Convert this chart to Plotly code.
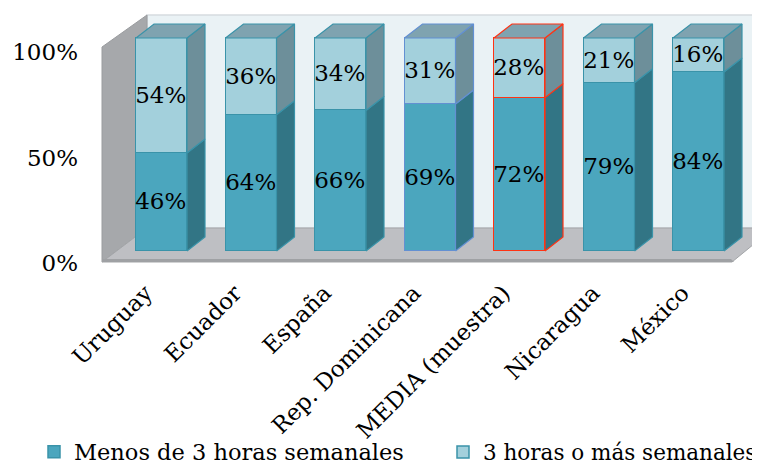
import plotly.graph_objects as go

categories = ["Uruguay", "Ecuador", "España", "Rep. Dominicana", "MEDIA (muestra)", "Nicaragua", "México"]
menos_3h = [46, 64, 66, 69, 72, 79, 84]
mas_3h = [54, 36, 34, 31, 28, 21, 16]
series_names = ["Menos de 3 horas semanales", "3 horas o más semanales"]
y_ticks = [0, 50, 100]
y_tick_labels = ["0%", "50%", "100%"]

OFF = 8  # page body margin: screen px = figure px + OFF
W, H = 760 - OFF, 466 - OFF
L, R, T, B = 95 - OFF, 0, 12 - OFF, 466 - 266
# pixel geometry of the bar plane (screen coordinates)
X0PX, XSTEP = 161.5, 89.5
Y0PX, YSCALE = 251.0, 2.13

def dx(px):  # screen px -> data x
    return (px - X0PX) / XSTEP

def dy(py):  # screen px -> data y
    return (Y0PX - py) / YSCALE

xr = [dx(L + OFF), dx(W - R + OFF)]
yr = [dy(H - B + OFF), dy(T + OFF)]

BW = 51 / XSTEP
DX = 18 / XSTEP
DY = 14 / YSCALE
LABEL_SHIFT = -16 / XSTEP  # category labels sit slightly left of the bar centres

FRONT_LO = "#4BA6BE"
FRONT_HI = "#A3D0DC"
SIDE_LO = "#327585"
SIDE_HI = "#6D8F9A"
TOP_C = "#7FA3B0"
EDGE = "#3A93A9"
edge_colors = [EDGE, EDGE, EDGE, "#6390D2", "#FF3314", EDGE, EDGE]

FONT = "DejaVu Serif"
xs = list(range(len(categories)))

fig = go.Figure()
fig.add_trace(go.Bar(
    x=xs, y=menos_3h, name=series_names[0], width=BW, legend="legend",
    marker=dict(color=FRONT_LO, line=dict(color=edge_colors, width=1.5)),
    text=[f"{v}%" for v in menos_3h], textposition="inside", insidetextanchor="middle",
    textangle=0, constraintext="none", textfont=dict(family=FONT, size=23, color="black"),
))
fig.add_trace(go.Bar(
    x=xs, y=mas_3h, name=series_names[1], width=BW, legend="legend2",
    marker=dict(color=FRONT_HI, line=dict(color=edge_colors, width=1.5)),
    text=[f"{v}%" for v in mas_3h], textposition="inside", insidetextanchor="middle",
    textangle=0, constraintext="none", textfont=dict(family=FONT, size=23, color="black"),
))

for i, (a, b) in enumerate(zip(menos_3h, mas_3h)):
    xr_edge = i + BW / 2
    xl_edge = i - BW / 2
    tot = a + b
    for y0, y1, col in [(0, a, SIDE_LO), (a, tot, SIDE_HI)]:
        fig.add_trace(go.Scatter(
            x=[xr_edge, xr_edge + DX, xr_edge + DX, xr_edge, xr_edge],
            y=[y0, y0 + DY, y1 + DY, y1, y0],
            fill="toself", fillcolor=col, mode="lines",
            line=dict(color=edge_colors[i], width=1.2),
            showlegend=False, hoverinfo="skip"))
    fig.add_trace(go.Scatter(
        x=[xl_edge, xl_edge + DX, xr_edge + DX, xr_edge, xl_edge],
        y=[tot, tot + DY, tot + DY, tot, tot],
        fill="toself", fillcolor=TOP_C, mode="lines",
        line=dict(color=edge_colors[i], width=1.2),
        showlegend=False, hoverinfo="skip"))

def poly(pts):
    return "M " + " L ".join(f"{dx(px)},{dy(py)}" for px, py in pts) + " Z"

shapes = [
    # back wall
    dict(type="path", path=poly([(147, 15), (765, 15), (765, 228), (147, 228)]),
         fillcolor="#EAF2F5", line=dict(color="#D6DCDF", width=1.5), layer="below"),
    # left wall
    dict(type="path", path=poly([(102, 47), (147, 15), (147, 228), (102, 262)]),
         fillcolor="#A6A8AB", line=dict(color="#9A9C9F", width=1), layer="below"),
    # floor
    dict(type="path", path=poly([(102, 262), (147, 228), (765, 228), (765, 235), (732, 262)]),
         fillcolor="#BEBFC3", line=dict(color="#A3A5A8", width=1), layer="below"),
    dict(type="path", path=poly([(102, 259), (731, 259), (734, 262), (102, 262)]),
         fillcolor="#9FA1A4", line=dict(width=0), layer="below"),
]

pw = W - L - R
ph = H - T - B

def lx(screen_x):
    return (screen_x - OFF - L) / pw

def ly(screen_y):
    return (H - B - (screen_y - OFF)) / ph

leg_common = dict(orientation="h", xanchor="left", yanchor="middle", y=ly(452),
                  itemwidth=30, bgcolor="rgba(0,0,0,0)")

fig.update_layout(
    width=W, height=H,
    margin=dict(l=L, r=R, t=T, b=B, pad=0, autoexpand=False),
    paper_bgcolor="white", plot_bgcolor="rgba(0,0,0,0)",
    barmode="stack", bargap=0,
    shapes=shapes,
    font=dict(family=FONT, color="black"),
    xaxis=dict(range=xr, tickvals=[i + LABEL_SHIFT for i in xs], ticktext=categories, tickangle=-45,
               showgrid=False, zeroline=False, showline=False, ticks="", automargin=False,
               tickfont=dict(size=23, family=FONT), ticklabelstandoff=8, fixedrange=True),
    yaxis=dict(range=yr, visible=False, fixedrange=True, automargin=False),
    yaxis2=dict(range=[(263 - OFF - (H - B)) / 2.11, (263 - OFF - T) / 2.11],
                overlaying="y", side="left",
                tickvals=y_ticks, ticktext=y_tick_labels, showgrid=False, zeroline=False,
                showline=False, ticks="", tickfont=dict(size=23, family=FONT), automargin=False,
                ticklabelstandoff=16, fixedrange=True),
    legend=dict(x=lx(34), font=dict(size=22.5, family=FONT), **leg_common),
    legend2=dict(x=lx(443), font=dict(size=21.5, family=FONT), **leg_common),
    showlegend=True,
)
# dummy trace so yaxis2 is drawn
fig.add_trace(go.Scatter(x=[None], y=[None], yaxis="y2", showlegend=False, hoverinfo="skip"))

fig.write_html("out.html")
